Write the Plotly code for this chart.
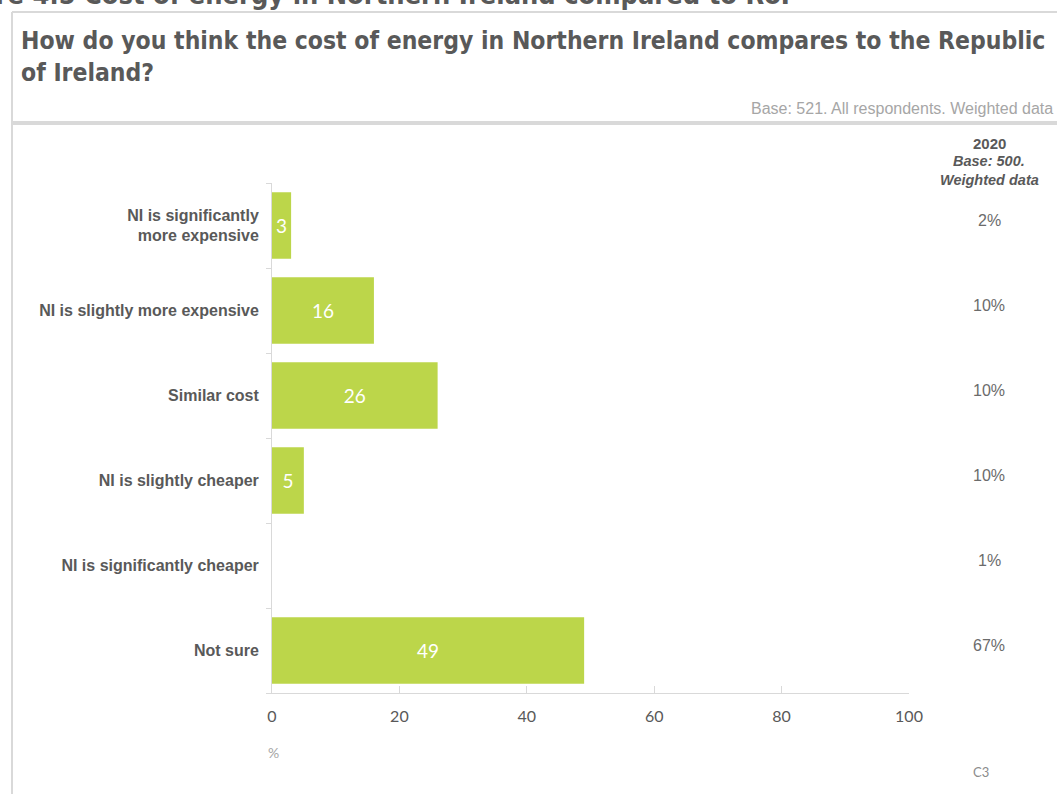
import plotly.graph_objects as go

# Survey responses (% of respondents, 2021) and the 2020 comparison column
categories = [
    "NI is significantly<br>more expensive",
    "NI is slightly more expensive",
    "Similar cost",
    "NI is slightly cheaper",
    "NI is significantly cheaper",
    "Not sure",
]
values_2021 = [3, 16, 26, 5, 0, 49]
values_2020 = ["2%", "10%", "10%", "10%", "1%", "67%"]
x_ticks = [0, 20, 40, 60, 80, 100]

W, H = 1057, 794
L, R, T, B = 272, 148, 183, 101
plot_w = W - L - R
plot_h = H - T - B

BAR_GREEN = "#bcd64a"
DARK = "#595959"
MID = "#6b6b6b"
LIGHT = "#a6a6a6"
FRAME = "#d9d9d9"
HEAD_FONT = "DejaVu Sans Condensed"


def px_x(px):
    return (px - L) / plot_w


def px_y(py):
    return 1 - (py - T) / plot_h


fig = go.Figure()
fig.add_trace(
    go.Bar(
        x=values_2021,
        y=categories,
        orientation="h",
        marker=dict(color=BAR_GREEN, line=dict(width=0)),
        text=[str(v) if v else "" for v in values_2021],
        textposition="inside",
        insidetextanchor="middle",
        constraintext="none",
        textfont=dict(family="Lato", size=19, color="white"),
        cliponaxis=False,
        hoverinfo="skip",
    )
)

annotations = []

# 2020 comparison column
for cat, v in zip(categories, values_2020):
    annotations.append(dict(
        xref="paper", yref="y", x=px_x(989), y=cat, yshift=5,
        text=v, showarrow=False, xanchor="center", yanchor="middle",
        font=dict(family="Liberation Sans", size=16, color=MID),
    ))

annotations += [
    dict(xref="paper", yref="paper", x=px_x(989), y=px_y(143),
         text="<b>2020</b>", showarrow=False, xanchor="center", yanchor="middle",
         font=dict(family="Liberation Sans", size=15, color=DARK)),
    dict(xref="paper", yref="paper", x=px_x(989), y=px_y(161),
         text="<b><i>Base: 500.</i></b>", showarrow=False, xanchor="center", yanchor="middle",
         font=dict(family="Liberation Sans", size=14.5, color=DARK)),
    dict(xref="paper", yref="paper", x=px_x(989), y=px_y(180),
         text="<b><i>Weighted data</i></b>", showarrow=False, xanchor="center", yanchor="middle",
         font=dict(family="Liberation Sans", size=14.5, color=DARK)),
    # question heading
    dict(xref="paper", yref="paper", x=px_x(19), y=px_y(24),
         text="<b>How do you think the cost of energy in Northern Ireland compares to the Republic<br>of Ireland?</b>",
         showarrow=False, xanchor="left", yanchor="top", align="left",
         font=dict(family=HEAD_FONT, size=24.5, color=DARK)),
    # figure caption, running off the top edge
    dict(xref="paper", yref="paper", x=px_x(792), y=px_y(12),
         text="<b>Figure 4.5 Cost of energy in Northern Ireland compared to RoI</b>",
         showarrow=False, xanchor="right", yanchor="bottom",
         font=dict(family=HEAD_FONT, size=27, color=DARK)),
    dict(xref="paper", yref="paper", x=px_x(1055), y=px_y(108),
         text="Base: 521. All respondents. Weighted data",
         showarrow=False, xanchor="right", yanchor="middle",
         font=dict(family="Liberation Sans", size=16, color=LIGHT)),
    dict(xref="paper", yref="paper", x=px_x(273), y=px_y(752),
         text="%", showarrow=False, xanchor="center", yanchor="middle",
         font=dict(family="Lato", size=14, color=LIGHT)),
    dict(xref="paper", yref="paper", x=px_x(981), y=px_y(772),
         text="C3", showarrow=False, xanchor="center", yanchor="middle",
         font=dict(family="Lato", size=13, color="#8c8c8c")),
]

shapes = [
    # outer frame
    dict(type="line", xref="paper", yref="paper", x0=px_x(12), x1=px_x(12),
         y0=px_y(12), y1=px_y(H + 5), line=dict(color=FRAME, width=2)),
    dict(type="line", xref="paper", yref="paper", x0=px_x(12), x1=px_x(W + 5),
         y0=px_y(12), y1=px_y(12), line=dict(color=FRAME, width=2)),
    # divider under the heading
    dict(type="line", xref="paper", yref="paper", x0=px_x(12), x1=px_x(W + 5),
         y0=px_y(123), y1=px_y(123), line=dict(color=FRAME, width=4)),
]

fig.update_layout(
    width=W, height=H,
    margin=dict(l=L, r=R, t=T, b=B, pad=0),
    paper_bgcolor="white", plot_bgcolor="white",
    showlegend=False,
    bargap=0.22,
    annotations=annotations,
    shapes=shapes,
    xaxis=dict(
        range=[0, 100], tickvals=x_ticks, ticktext=[str(t) for t in x_ticks],
        showgrid=False, zeroline=False,
        showline=True, linecolor=FRAME, linewidth=1,
        ticks="inside", ticklen=7, tickcolor=FRAME,
        tickfont=dict(family="Lato", size=16, color=DARK),
        ticklabelstandoff=9,
        fixedrange=True,
    ),
    yaxis=dict(
        categoryorder="array", categoryarray=categories, autorange="reversed",
        showgrid=False, zeroline=False,
        showline=True, linecolor=FRAME, linewidth=1,
        ticks="outside", ticklen=5, tickcolor=FRAME, tickson="boundaries",
        tickfont=dict(family="Liberation Sans", size=16, color=DARK),
        ticklabelstandoff=9,
        fixedrange=True,
    ),
)
# bold category labels
fig.update_yaxes(ticktext=[f"<b>{c}</b>" for c in categories], tickvals=categories)

fig.write_html("out.html")
